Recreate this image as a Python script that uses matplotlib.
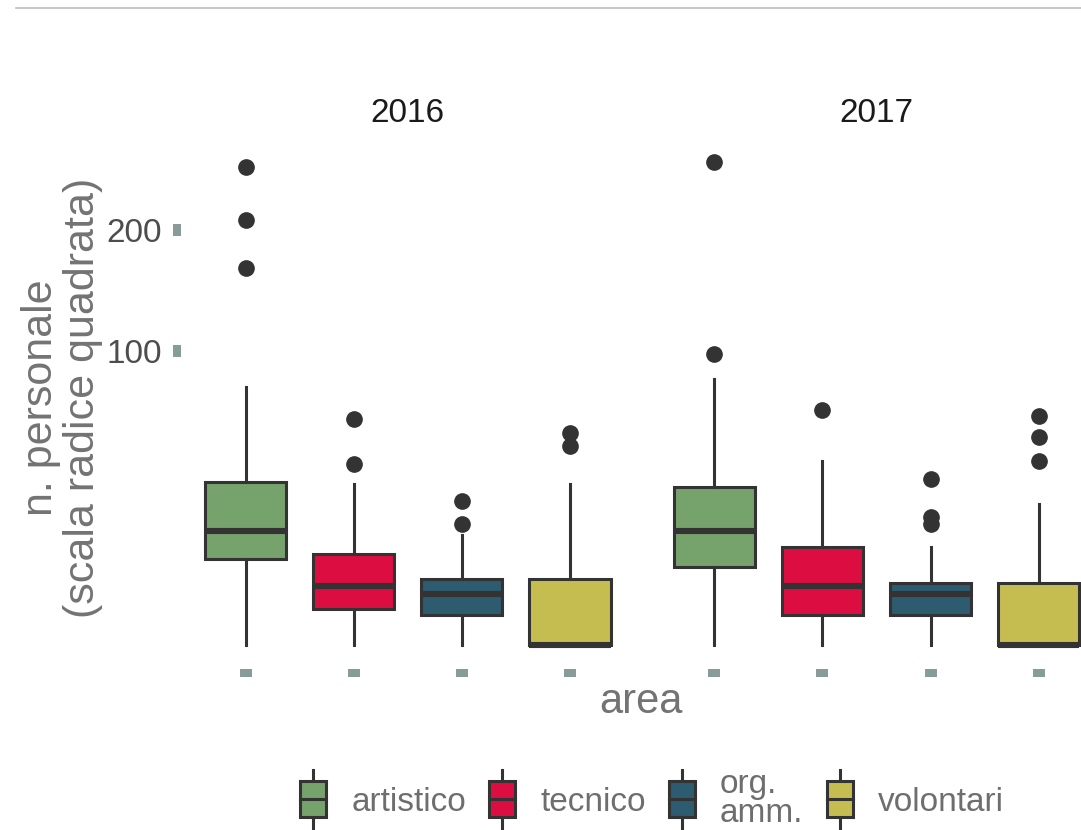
import numpy as np
import matplotlib
matplotlib.use("Agg")
import matplotlib.pyplot as plt
from matplotlib.patches import Rectangle, Patch
from matplotlib.lines import Line2D
from matplotlib.legend_handler import HandlerBase
from matplotlib.ticker import NullLocator

plt.rcParams["font.family"] = ["Liberation Sans", "DejaVu Sans"]

# ---- data -------------------------------------------------------------
areas = ["artistico", "tecnico", "org.\namm.", "volontari"]
years = ["2016", "2017"]
colors = ["#76A26B", "#DC0D41", "#2D5B70", "#C6BD51"]

# 2016 box statistics per area
whislo_2016 = [0, 0, 0, 0]
q1_2016 = [8.5, 1.5, 1.0, 0]
med_2016 = [15.1, 4.0, 3.0, 0]
q3_2016 = [30.6, 9.5, 5.0, 5.0]
whishi_2016 = [77, 30, 14, 30]
fliers_2016 = [[165, 209, 265], [38, 59], [17, 24], [46, 52]]

# 2017 box statistics per area
whislo_2017 = [0, 0, 0, 0]
q1_2017 = [7.1, 1.0, 1.0, 0]
med_2017 = [15.1, 4.0, 3.0, 0]
q3_2017 = [29.0, 11.0, 4.5, 4.5]
whishi_2017 = [82, 39, 11, 23]
fliers_2017 = [[98, 270], [64], [17, 19, 32], [39, 50, 61]]

y_ticks = [100, 200]

# ---- styling ------------------------------------------------------------
EDGE = "#333333"
LW = 2.2
TICK_COLOR = "#879B99"
TITLE_GREY = "#737373"


def signed_sqrt(v):
    v = np.asarray(v, dtype=float)
    return np.sign(v) * np.sqrt(np.abs(v))


def signed_square(v):
    v = np.asarray(v, dtype=float)
    return np.sign(v) * v ** 2


def make_stats(lo, q1, med, q3, hi, fl):
    return [dict(whislo=a, q1=b, med=c, q3=d, whishi=e, fliers=f, label="")
            for a, b, c, d, e, f in zip(lo, q1, med, q3, hi, fl)]


panels = {
    "2016": make_stats(whislo_2016, q1_2016, med_2016, q3_2016, whishi_2016, fliers_2016),
    "2017": make_stats(whislo_2017, q1_2017, med_2017, q3_2017, whishi_2017, fliers_2017),
}

# common y range: sqrt scale with 5% expansion in transformed space
all_vals = [v for st in panels.values() for s in st for v in list(s["fliers"]) + [s["whishi"]]]
s_top = float(np.sqrt(max(all_vals)))
pad = 0.05 * s_top
ylo, yhi = -(pad ** 2), (s_top + pad) ** 2

fig = plt.figure(figsize=(10.81, 8.30), dpi=100)
W, H = 1081.0, 830.0

panel_w = 454.1 / W
bottom = (H - 668.9) / H
height = (668.9 - 138.3) / H
lefts = [180.8 / W, 649.4 / W]

positions = np.arange(1, len(areas) + 1)

for i, (yr, left) in enumerate(zip(years, lefts)):
    ax = fig.add_axes([left, bottom, panel_w, height])
    ax.set_yscale("function", functions=(signed_sqrt, signed_square))
    bp = ax.bxp(
        panels[yr], positions=positions, widths=0.75, patch_artist=True,
        showcaps=False,
        boxprops=dict(edgecolor=EDGE, linewidth=LW),
        medianprops=dict(color=EDGE, linewidth=LW * 2, solid_capstyle="butt"),
        whiskerprops=dict(color=EDGE, linewidth=LW),
        flierprops=dict(marker="o", markerfacecolor=EDGE, markeredgecolor=EDGE,
                        markersize=11),
    )
    for patch, c in zip(bp["boxes"], colors):
        patch.set_facecolor(c)
    for patch in bp["boxes"]:
        patch.set_zorder(2)
    for m in bp["medians"]:
        m.set_zorder(3)

    ax.set_xlim(0.4, len(areas) + 0.6)
    ax.set_ylim(ylo, yhi)
    ax.set_xticks(positions)
    ax.set_xticklabels([""] * len(areas))
    ax.yaxis.set_minor_locator(NullLocator())
    ax.xaxis.set_minor_locator(NullLocator())
    for sp in ax.spines.values():
        sp.set_visible(False)
    ax.tick_params(axis="x", direction="out", length=5.8, width=8.6, color=TICK_COLOR)
    if i == 0:
        ax.set_yticks(y_ticks)
        ax.set_yticklabels([str(t) for t in y_ticks])
        ax.tick_params(axis="y", direction="out", length=5.8, width=8.6,
                       color=TICK_COLOR, labelsize=24, labelcolor="#4D4D4D", pad=8)
    else:
        ax.set_yticks([])
    ax.set_title(yr, fontsize=24, color="#1A1A1A", pad=11.7)


# ---- axis titles ----------------------------------------------------------
fig.text(62 / W, 1 - 398 / H, "n. personale\n(scala radice quadrata)", rotation=90,
         ha="center", va="center", multialignment="center", fontsize=31,
         color=TITLE_GREY, linespacing=1.05)
fig.text(641 / W, (H - 713) / H, "area", ha="center", va="baseline",
         fontsize=30, color=TITLE_GREY)

# thin rule across the top
fig.add_artist(Line2D([16 / W, 1.0], [1 - 8 / H, 1 - 8 / H], color="#BDBDBD", lw=1.2))


# ---- legend with box-shaped keys ---------------------------------------------
class BoxKeyHandler(HandlerBase):
    def create_artists(self, legend, orig_handle, xdescent, ydescent, width,
                       height, fontsize, trans):
        cx = width / 2 - xdescent
        cy = height / 2 - ydescent
        bw, bh, wl = width, 26.0, 42.0
        whisk = Line2D([cx, cx], [cy - wl / 2, cy + wl / 2], color=EDGE, lw=LW,
                       transform=trans)
        box = Rectangle((cx - bw / 2, cy - bh / 2), bw, bh,
                        facecolor=orig_handle.get_facecolor(), edgecolor=EDGE,
                        lw=LW, transform=trans)
        med = Line2D([cx - bw / 2, cx + bw / 2], [cy, cy], color=EDGE, lw=LW,
                     transform=trans)
        return [whisk, box, med]


handles = [Patch(facecolor=c) for c in colors]
leg = fig.legend(handles, areas, loc="center", bbox_to_anchor=(652 / W, 31 / H),
                 ncol=4, frameon=False, fontsize=24, labelcolor="#6E6E6E",
                 handler_map={Patch: BoxKeyHandler()}, handlelength=0.78,
                 handletextpad=0.75, columnspacing=0.7, borderpad=0,
                 borderaxespad=0)
for t in leg.get_texts():
    t.set_linespacing(0.95)

fig.savefig("out.png", dpi=100, facecolor="white")
